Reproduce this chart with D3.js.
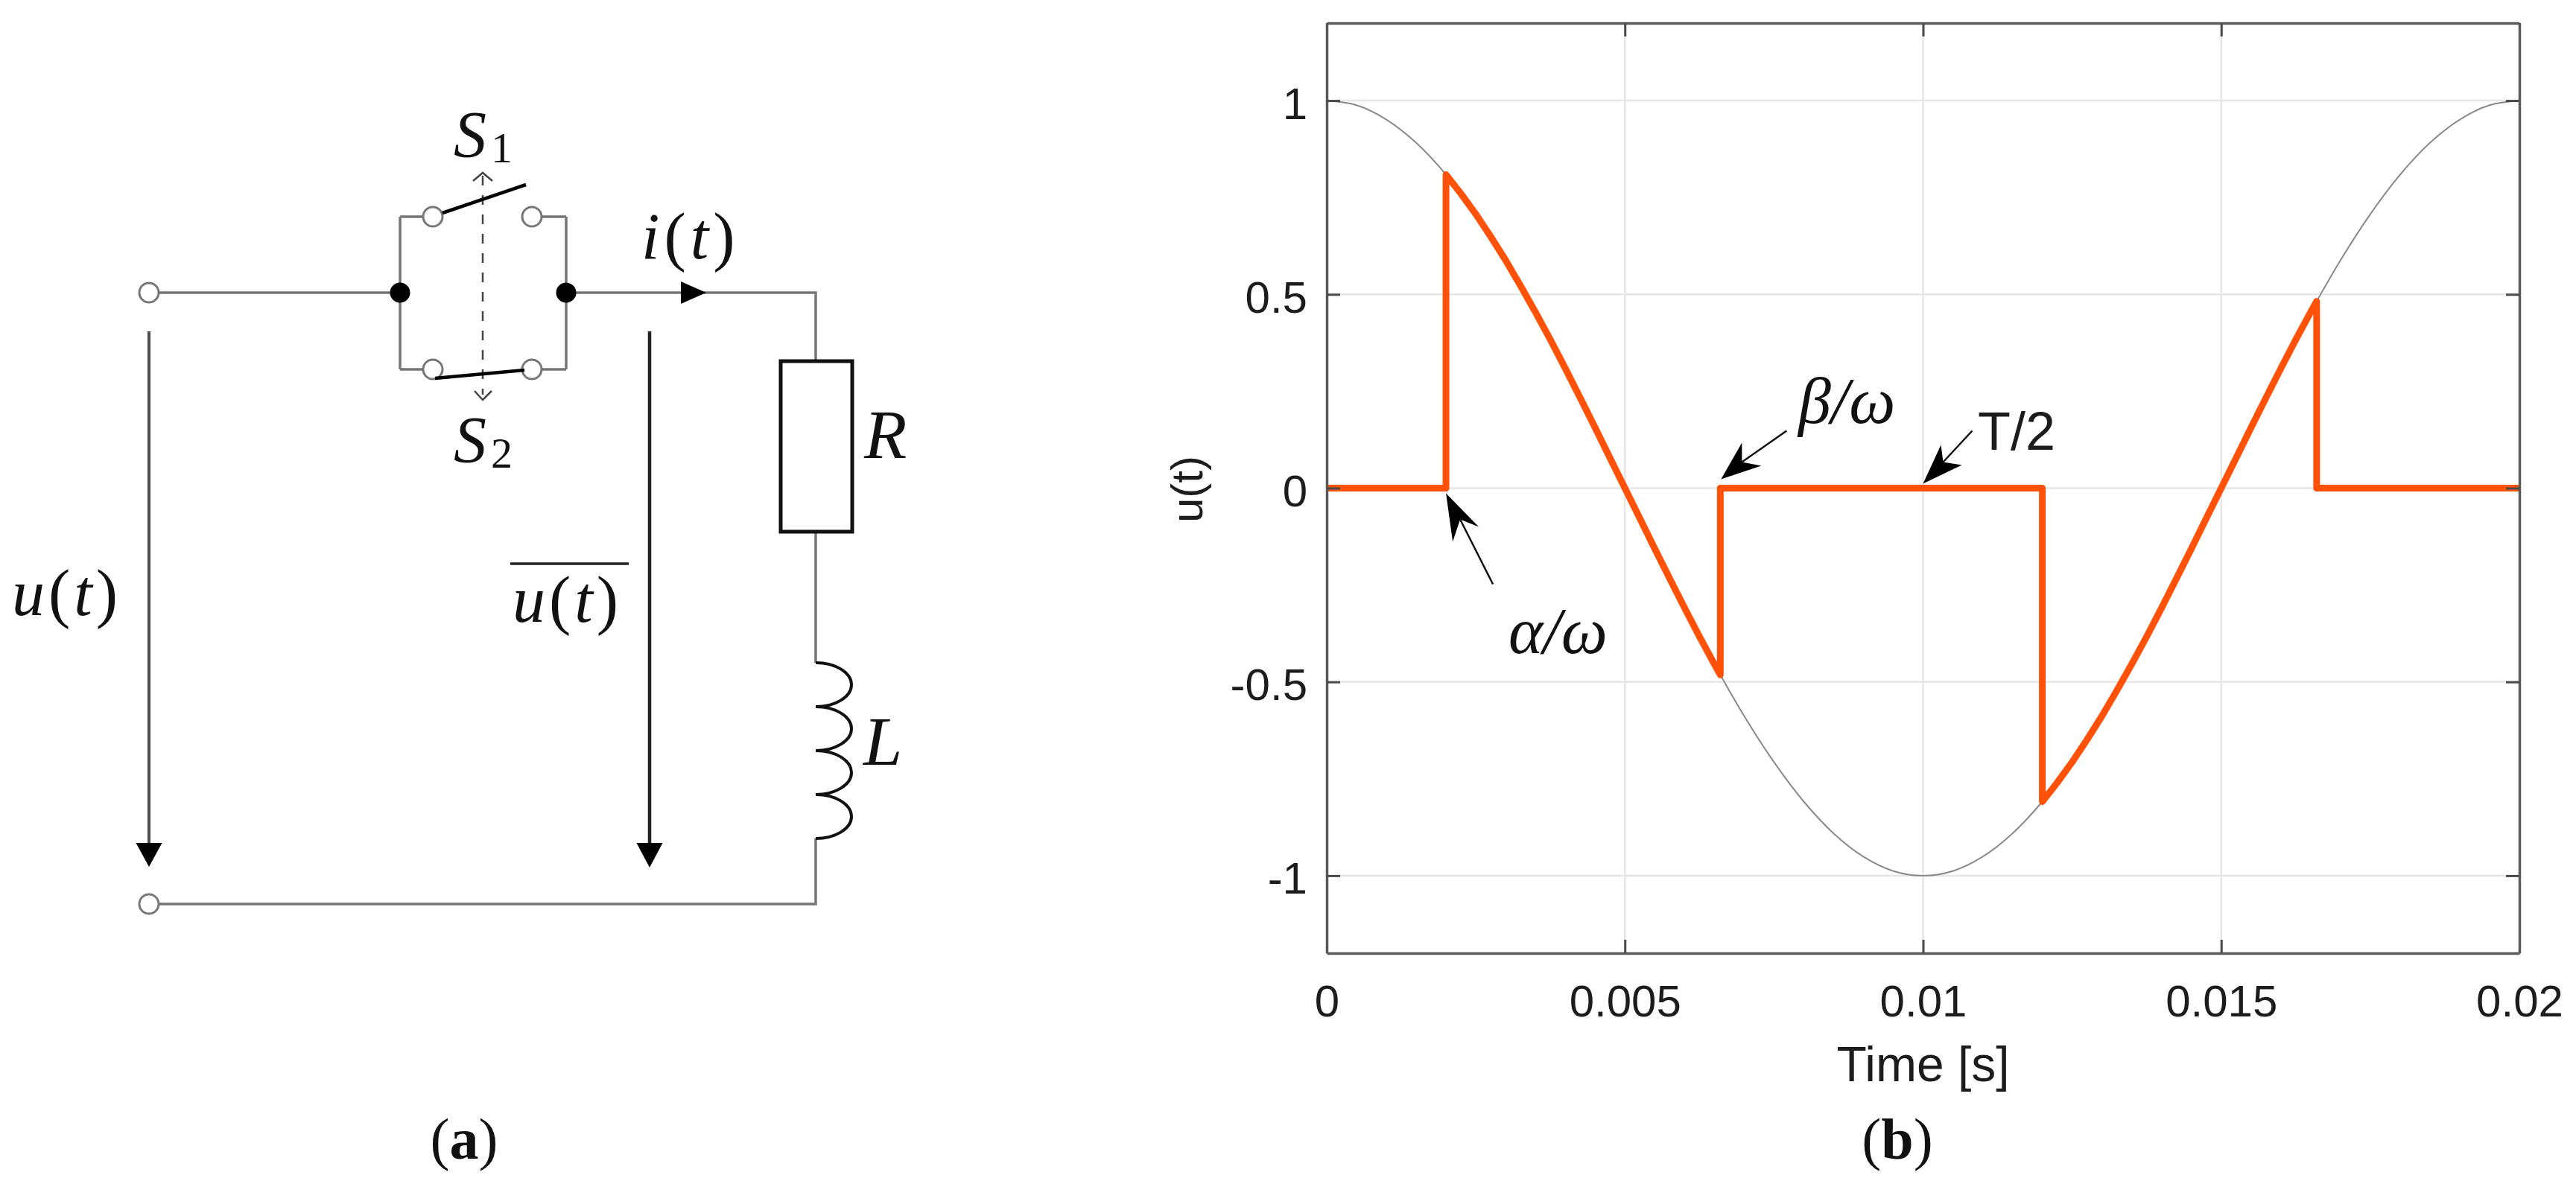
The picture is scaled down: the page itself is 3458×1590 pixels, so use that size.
<!DOCTYPE html>
<html>
<head>
<meta charset="utf-8">
<script src="https://cdn.jsdelivr.net/npm/d3@7"></script>
<style>
  html, body { margin: 0; padding: 0; background: #fff; }
  svg { display: block; }
  .sans { font-family: "Liberation Sans", sans-serif; fill: #1c1c1c; }
  .math { font-family: "Liberation Serif", serif; fill: #111; }
  .math .it { font-style: italic; }
</style>
</head>
<body>
<div id="chart-container"></div>
<script>
// thin grey reference curve, one reading every 0.0005 s
const refTime = [0, 0.0005, 0.001, 0.0015, 0.002, 0.0025, 0.003, 0.0035, 0.004, 0.0045, 0.005,
    0.0055, 0.006, 0.0065, 0.007, 0.0075, 0.008, 0.0085, 0.009, 0.0095, 0.01,
    0.0105, 0.011, 0.0115, 0.012, 0.0125, 0.013, 0.0135, 0.014, 0.0145, 0.015,
    0.0155, 0.016, 0.0165, 0.017, 0.0175, 0.018, 0.0185, 0.019, 0.0195, 0.02];
const refVolt = [1, 0.988, 0.951, 0.891, 0.809, 0.707, 0.588, 0.454, 0.309, 0.156, 0,
    -0.156, -0.309, -0.454, -0.588, -0.707, -0.809, -0.891, -0.951, -0.988, -1,
    -0.988, -0.951, -0.891, -0.809, -0.707, -0.588, -0.454, -0.309, -0.156, 0,
    0.156, 0.309, 0.454, 0.588, 0.707, 0.809, 0.891, 0.951, 0.988, 1];

// chopped output voltage (orange), includes the vertical jumps
const outTime = [0, 0.002, 0.002, 0.00225, 0.0025, 0.00275, 0.003, 0.00325, 0.0035, 0.00375, 0.004,
    0.00425, 0.0045, 0.00475, 0.005, 0.00525, 0.0055, 0.00575, 0.006, 0.00625, 0.0065, 0.0066, 0.0066,
    0.012, 0.012, 0.01225, 0.0125, 0.01275, 0.013, 0.01325, 0.0135, 0.01375, 0.014,
    0.01425, 0.0145, 0.01475, 0.015, 0.01525, 0.0155, 0.01575, 0.016, 0.01625, 0.0165, 0.0166, 0.0166, 0.02];
const outVolt = [0, 0, 0.809, 0.760, 0.707, 0.649, 0.588, 0.522, 0.454, 0.383, 0.309,
    0.233, 0.156, 0.078, 0, -0.078, -0.156, -0.233, -0.309, -0.383, -0.454, -0.482, 0,
    0, -0.809, -0.760, -0.707, -0.649, -0.588, -0.522, -0.454, -0.383, -0.309,
    -0.233, -0.156, -0.078, 0, 0.078, 0.156, 0.233, 0.309, 0.383, 0.454, 0.482, 0, 0];

const xTicks = [0, 0.005, 0.01, 0.015, 0.02];
const xTickLabels = ["0", "0.005", "0.01", "0.015", "0.02"];
const yTicks = [-1, -0.5, 0, 0.5, 1];
const yTickLabels = ["-1", "-0.5", "0", "0.5", "1"];

const width = 3458, height = 1590;
const plot = {left: 1781, right: 3382, top: 31, bottom: 1280};

const svg = d3.select("#chart-container").append("svg")
    .attr("width", width).attr("height", height);
svg.append("rect").attr("width", width).attr("height", height).attr("fill", "#fff");

const xScale = d3.scaleLinear().domain([0, 0.02]).range([plot.left, plot.right]);
const yScale = d3.scaleLinear().domain([-1.2, 1.2]).range([plot.bottom, plot.top]);

function drawGrid() {
    const grid = svg.append("g").attr("class", "grid");
    grid.selectAll(".gx").data(xTicks.slice(1, -1)).enter().append("line")
        .attr("x1", d => xScale(d)).attr("x2", d => xScale(d))
        .attr("y1", plot.top).attr("y2", plot.bottom);
    grid.selectAll(".gy").data(yTicks).enter().append("line")
        .attr("y1", d => yScale(d)).attr("y2", d => yScale(d))
        .attr("x1", plot.left).attr("x2", plot.right);
    grid.selectAll("line").attr("stroke", "#e6e6e6").attr("stroke-width", 2.5);
}

function drawCurves() {
    const refLine = d3.line().x(i => xScale(refTime[i])).y(i => yScale(refVolt[i])).curve(d3.curveCatmullRom);
    svg.append("path").attr("d", refLine(d3.range(refTime.length)))
        .attr("fill", "none").attr("stroke", "#8a8a8a").attr("stroke-width", 2);

    const outLine = d3.line().x(i => xScale(outTime[i])).y(i => yScale(outVolt[i]));
    svg.append("path").attr("d", outLine(d3.range(outTime.length)))
        .attr("fill", "none").attr("stroke", "#ff5208").attr("stroke-width", 9)
        .attr("stroke-linejoin", "round");
}

function drawAxes() {
    const tickLen = 18;
    const styleAxis = g => {
        g.selectAll(".domain").attr("stroke", "#5a5a5a").attr("stroke-width", 3.5);
        g.selectAll(".tick line").attr("stroke", "#4a4a4a").attr("stroke-width", 3);
        g.selectAll("text").attr("class", "sans").style("font-size", "60px").attr("fill", "#1c1c1c");
    };
    svg.append("g").attr("transform", `translate(0,${plot.bottom})`)
        .call(d3.axisBottom(xScale).tickValues(xTicks).tickFormat((d, i) => xTickLabels[i])
            .tickSize(-tickLen).tickSizeOuter(0).tickPadding(42))
        .call(styleAxis);
    svg.append("g").attr("transform", `translate(0,${plot.top})`)
        .call(d3.axisTop(xScale).tickValues(xTicks).tickFormat("").tickSize(-tickLen).tickSizeOuter(0))
        .call(styleAxis);
    svg.append("g").attr("transform", `translate(${plot.left},0)`)
        .call(d3.axisLeft(yScale).tickValues(yTicks).tickFormat((d, i) => yTickLabels[i])
            .tickSize(-tickLen).tickSizeOuter(0).tickPadding(26))
        .call(styleAxis)
        .selectAll("text").attr("dy", "0.4em");
    svg.append("g").attr("transform", `translate(${plot.right},0)`)
        .call(d3.axisRight(yScale).tickValues(yTicks).tickFormat("").tickSize(-tickLen).tickSizeOuter(0))
        .call(styleAxis);

    svg.append("text").attr("class", "sans").attr("x", xScale(0.01)).attr("y", 1452)
        .attr("text-anchor", "middle").style("font-size", "66px").text("Time [s]");
    svg.append("text").attr("class", "sans").attr("text-anchor", "middle")
        .attr("transform", "translate(1614,657) rotate(-90)")
        .style("font-size", "60px").text("u(t)");
}

// parts: [text, italic] pairs drawn as tspans
function mathText(x, y, size, parts, spacing) {
    const t = svg.append("text").attr("class", "math").attr("x", x).attr("y", y)
        .style("font-size", size + "px").style("letter-spacing", (spacing || 0) + "px");
    parts.forEach(p => t.append("tspan").attr("class", p[1] ? "it" : null).text(p[0]));
    return t;
}

function drawAnnotations() {
    const arrows = [
        {t: 0.002, u: 0, off: [0, 7], tail: [63, 122], head: [[9, 65], [19, 35], [44, 45]]},
        {t: 0.0067, u: 0, off: [-7, -12], tail: [88, -65], head: [[28, -49], [28, -23], [54, -18]]},
        {t: 0.01, u: 0, off: [0, -6], tail: [66, -71], head: [[24, -52], [27, -29], [52, -25]]}
    ];
    arrows.forEach(a => {
        const tx = xScale(a.t) + a.off[0], ty = yScale(a.u) + a.off[1];
        svg.append("line").attr("x1", tx + a.head[1][0]).attr("y1", ty + a.head[1][1])
            .attr("x2", tx + a.tail[0]).attr("y2", ty + a.tail[1])
            .attr("stroke", "#111").attr("stroke-width", 2.5);
        const pts = [[0, 0]].concat(a.head).map(p => [tx + p[0], ty + p[1]]);
        svg.append("path").attr("d", d3.line()(pts) + "Z").attr("fill", "#000");
    });
    mathText(2025, 877, 88, [["α/ω", true]]);
    mathText(2414, 568, 88, [["β/ω", true]]);
    svg.append("text").attr("class", "sans").attr("x", 2655).attr("y", 604)
        .style("font-size", "72px").text("T/2");
}

function drawCircuit() {
    const wire = (d, color, w) => svg.append("path").attr("d", d).attr("fill", "none")
        .attr("stroke", color).attr("stroke-width", w);

    wire("M200 393H537M537 291V496M537 291H581M537 496H581M714 291H760M714 496H760M760 291V496", "#767676", 3.5);
    wire("M760 393H1095V485M1095 714V890M1095 1126V1214H200", "#767676", 3.5);
    // dashed coupling between the two switches
    wire("M648 236V530", "#444", 2.5).attr("stroke-dasharray", "13,13");
    wire("M635 243L648 232L661 243", "#444", 2.5);
    wire("M637 525L648 537L660 525", "#444", 2.5);

    // open contacts and terminals
    const open = [[200, 393], [200, 1214], [581, 291], [714, 291], [581, 496], [714, 496]];
    svg.selectAll(".open").data(open).enter().append("circle")
        .attr("cx", d => d[0]).attr("cy", d => d[1]).attr("r", 13)
        .attr("fill", "#fff").attr("stroke", "#777").attr("stroke-width", 3);
    svg.selectAll(".node").data([[537, 393], [760, 393]]).enter().append("circle")
        .attr("cx", d => d[0]).attr("cy", d => d[1]).attr("r", 13.5).attr("fill", "#000");

    // switch blades
    wire("M594 286L706 248M584 508L704 497", "#000", 4.5);

    // resistor and inductor
    svg.append("rect").attr("x", 1048).attr("y", 485).attr("width", 96).attr("height", 229)
        .attr("fill", "#fff").attr("stroke", "#111").attr("stroke-width", 5);
    wire("M1095 890A48 29.5 0 0 1 1095 949A48 29.5 0 0 1 1095 1008A48 29.5 0 0 1 1095 1067A48 29.5 0 0 1 1095 1126", "#111", 4);

    // voltage arrows and current arrow
    wire("M200 445V1135", "#4d4d4d", 4);
    wire("M872 445V1135", "#222", 4.5);
    [[200, 1132, 1164], [872, 1132, 1165]].forEach(a => {
        svg.append("path").attr("d", `M${a[0] - 17.5} ${a[1]}H${a[0] + 17.5}L${a[0]} ${a[2]}Z`).attr("fill", "#000");
    });
    svg.append("path").attr("d", "M914 378L948 393L914 408Z").attr("fill", "#000");

    // labels
    mathText(16, 826, 88, [["u", true], ["(", false], ["t", true], [")", false]], 5);
    mathText(688, 835, 88, [["u", true], ["(", false], ["t", true], [")", false]], 5);
    wire("M685 757H844", "#222", 3.5);
    mathText(861, 347, 88, [["i", true], ["(", false], ["t", true], [")", false]], 6);
    mathText(609, 210, 88, [["S", true]]);
    mathText(659, 218, 58, [["1", false]]);
    mathText(609, 620, 88, [["S", true]]);
    mathText(659, 628, 58, [["2", false]]);
    mathText(1160, 615, 94, [["R", true]]);
    mathText(1159, 1027, 94, [["L", true]]);
}

function drawCaptions() {
    const caption = (x, letter) => {
        const t = svg.append("text").attr("class", "math").attr("x", x).attr("y", 1556)
            .attr("text-anchor", "middle").style("font-size", "78px");
        t.append("tspan").text("(");
        t.append("tspan").style("font-weight", "bold").text(letter);
        t.append("tspan").text(")");
    };
    caption(623, "a");
    caption(2547, "b");
}

drawGrid();
drawCurves();
drawAxes();
drawAnnotations();
drawCircuit();
drawCaptions();
</script>
</body>
</html>
